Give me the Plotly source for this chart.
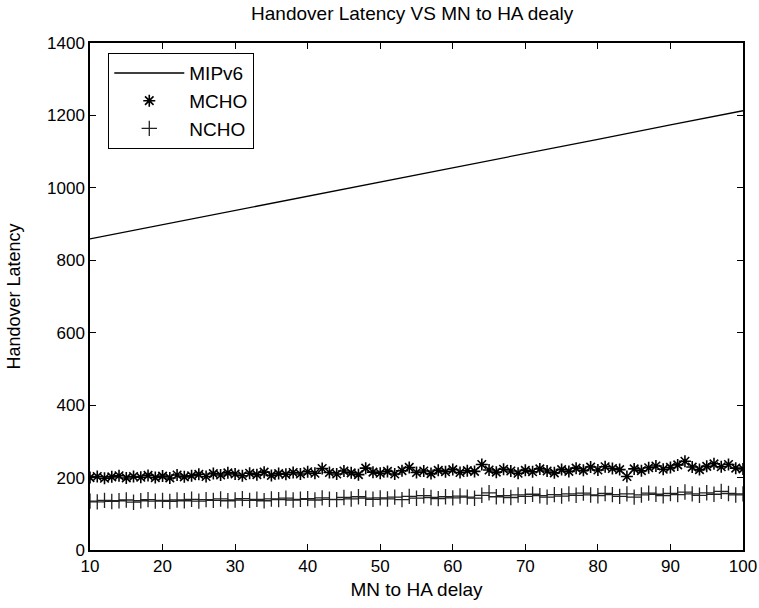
import plotly.graph_objects as go

x_delay = list(range(10, 101))

mip_x = [10, 20, 30, 40, 50, 60, 70, 80, 90, 100]
mip_y = [859, 898, 938, 977, 1016, 1056, 1095, 1134, 1174, 1213]

mcho_y = [
    200, 203, 198, 202, 205, 199, 203, 201, 206, 200,
    204, 199, 207, 202, 205, 209, 203, 211, 207, 213,
    210, 205, 212, 208, 215, 206, 211, 209, 214, 210,
    216, 212, 225, 214, 210, 218, 213, 208, 226, 215,
    212, 217, 210, 219, 228, 214, 218, 211, 220, 216,
    222, 214, 219, 217, 236, 221, 215, 223, 218, 212,
    220, 216, 224, 218, 213, 222, 217, 226, 220, 229,
    221, 230, 225, 222, 203, 224, 219, 227, 232, 223,
    228, 235, 245, 229, 222, 231, 238, 230, 236, 226,
    224,
]

ncho_y = [
    135, 133, 137, 134, 136, 138, 132, 136, 139, 135,
    137, 134, 138, 136, 140, 135, 139, 137, 141, 136,
    138, 142, 137, 140, 136, 141, 139, 143, 138, 140,
    142, 138, 144, 140, 139, 145, 141, 147, 143, 140,
    144, 141, 146, 139, 148, 143, 150, 145, 142, 147,
    144, 149, 146, 143, 151, 158, 147, 150, 145, 152,
    148, 154, 150, 146, 153, 149, 155, 151, 157, 152,
    150, 156, 153, 148, 155, 146, 152, 157, 154, 150,
    156, 153, 160, 155, 151, 158, 154, 162, 156, 152,
    155,
]

x_ticks = [10, 20, 30, 40, 50, 60, 70, 80, 90, 100]
y_ticks = [0, 200, 400, 600, 800, 1000, 1200, 1400]

FONT = "Liberation Sans, Arial, sans-serif"

fig = go.Figure()
fig.add_trace(go.Scatter(x=mip_x, y=mip_y, mode="lines", name="MIPv6",
                         line=dict(color="black", width=1.3)))
fig.add_trace(go.Scatter(x=x_delay, y=mcho_y, mode="markers", name="MCHO",
                         marker=dict(symbol="asterisk-open", size=10, color="black",
                                     line=dict(color="black", width=1.6))))
fig.add_trace(go.Scatter(x=x_delay, y=ncho_y, mode="markers", name="NCHO",
                         marker=dict(symbol="cross-thin-open", size=11, color="#222",
                                     line=dict(color="#222", width=1.3))))

fig.update_layout(
    width=759, height=608,
    margin=dict(l=90, r=16, t=43, b=58, autoexpand=False),
    paper_bgcolor="white", plot_bgcolor="white",
    font=dict(family=FONT, color="black", size=17),
    title=dict(text="Handover Latency VS MN to HA dealy", x=0.543, xanchor="center",
               y=1 - 13 / 608, yanchor="middle", yref="container",
               font=dict(size=19, color="black")),
    showlegend=True,
    legend=dict(x=0.028, y=0.98, xanchor="left", yanchor="top",
                bordercolor="black", borderwidth=1, bgcolor="white",
                font=dict(size=19), tracegroupgap=0, itemwidth=70),
)
fig.update_xaxes(range=[10, 100], tickvals=x_ticks, ticks="inside", ticklen=6,
                 tickcolor="black", showline=True, linecolor="black", linewidth=1.5,
                 mirror="ticks", showgrid=False, zeroline=False, automargin=False,
                 tickfont=dict(size=17),
                 title=dict(text="MN to HA delay", font=dict(size=19), standoff=8))
fig.update_yaxes(range=[0, 1400], tickvals=y_ticks, ticks="inside", ticklen=6,
                 tickcolor="black", showline=True, linecolor="black", linewidth=1.5,
                 mirror="ticks", showgrid=False, zeroline=False, automargin=False,
                 tickfont=dict(size=17),
                 title=dict(text="Handover Latency", font=dict(size=18), standoff=22))

fig.write_html("out.html")
